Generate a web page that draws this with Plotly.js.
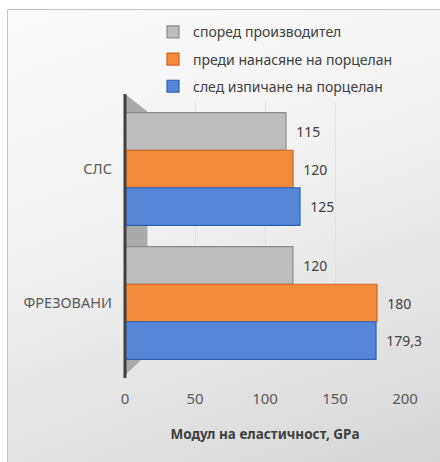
<!DOCTYPE html>
<html>
<head>
<meta charset="utf-8">
<script src="https://cdn.plot.ly/plotly-3.0.1.min.js"></script>
<style>
  html, body { margin: 0; padding: 0; width: 440px; height: 462px; overflow: hidden; background: #ffffff; }
  #frame { position: absolute; left: 7px; top: 9px; width: 440px; height: 460px; border: 1px solid #c4c4c4; box-sizing: border-box;
           background: linear-gradient(160deg, #fbfbfb 0%, #f0f0f0 45%, #d6d6d6 100%); }
  #chart { position: absolute; left: 0; top: 0; width: 440px; height: 462px; }
</style>
</head>
<body>
<div id="frame"></div>
<div id="chart"></div>
<script>
const categories = ['СЛС', 'ФРЕЗОВАНИ'];
const seriesNames = ['според производител', 'преди нанасяне на порцелан', 'след изпичане на порцелан'];
const manufacturer = [115, 120];
const beforePorcelain = [120, 180];
const afterFiring = [125, 179.3];
const xTicks = [0, 50, 100, 150, 200];
const axisTitle = 'Модул на еластичност, GPa';

const values = [manufacturer, beforePorcelain, afterFiring];
const fills = ['#bdbdbd', '#f28b3b', '#5686d8'];
const edges = ['#8c8c8c', '#d2651c', '#2f5fb3'];

const fmt = v => '\u00a0\u00a0' + String(v).replace('.', ',');

const traces = values.map((vals, i) => ({
  type: 'bar',
  orientation: 'h',
  name: seriesNames[i],
  y: categories,
  x: vals,
  text: vals.map(fmt),
  textposition: 'outside',
  cliponaxis: false,
  textfont: { family: 'Noto Sans, sans-serif', size: 14, color: '#404040' },
  marker: { color: fills[i], line: { color: edges[i], width: 1.2 } },
  legendgroup: 'g' + i,
  hoverinfo: 'skip'
}));

const layout = {
  width: 440, height: 462,
  margin: { l: 125, r: 35, t: 102, b: 92 },
  paper_bgcolor: 'rgba(0,0,0,0)',
  plot_bgcolor: 'rgba(0,0,0,0)',
  barmode: 'group',
  bargap: 0.16,
  bargroupgap: 0,
  font: { family: 'Noto Sans, sans-serif', color: '#595959' },
  showlegend: true,
  legend: {
    x: 0.1, xanchor: 'left', y: 1.32, yanchor: 'top',
    bgcolor: 'rgba(0,0,0,0)',
    font: { size: 14, color: '#404040' },
    traceorder: 'grouped',
    tracegroupgap: 6
  },
  xaxis: {
    range: [0, 200],
    tickvals: xTicks,
    ticktext: xTicks.map(String),
    showgrid: true, gridcolor: '#e2e2e2', gridwidth: 1,
    zeroline: false, showline: false,
    tickfont: { size: 15, color: '#595959' },
    ticks: '', ticklen: 0,
    ticklabelstandoff: 18,
    title: { text: '<b>' + axisTitle + '</b>', font: { size: 13.5, color: '#404040' }, standoff: 22 },
    fixedrange: true
  },
  yaxis: {
    type: 'category',
    categoryorder: 'array', categoryarray: categories,
    autorange: 'reversed',
    showgrid: false, zeroline: false,
    showline: false,
    tickfont: { size: 14.5, color: '#595959' },
    ticks: '', ticklen: 0,
    ticklabelstandoff: 12,
    fixedrange: true
  },
  shapes: [
    { type: 'path', xref: 'paper', yref: 'paper', layer: 'below',
      path: 'M 0 1.03 L 0.08 0.965 L 0.08 0.06 L 0 -0.02 Z',
      fillcolor: '#aaaaaa', line: { width: 0 } },
    { type: 'line', xref: 'paper', yref: 'paper', layer: 'above',
      x0: 0, x1: 0, y0: -0.03, y1: 1.03,
      line: { color: '#404040', width: 3 } }
  ]
};

Plotly.newPlot('chart', traces, layout, { displayModeBar: false, staticPlot: true });
</script>
</body>
</html>
